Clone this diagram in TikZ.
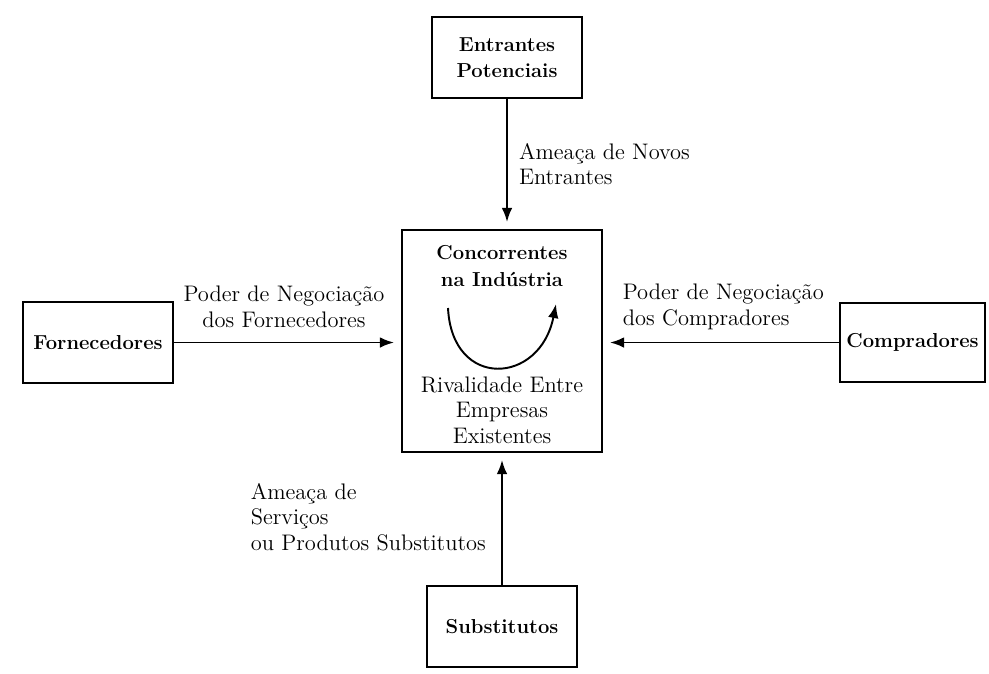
\documentclass[tikz,border=0pt]{standalone}
\usepackage{amsmath}
\usepackage{amssymb}
\usepackage{tikz}
\usetikzlibrary{arrows.meta}

\begin{document}
\begin{tikzpicture}[->,>={Latex[length=8pt,width=6pt]},shorten >=4pt,line width=1.1pt,x=0.02cm,y=-0.02cm,
  force node/.style={rectangle,draw,align=center,font=\fontsize{11.5}{15}\selectfont\bfseries,minimum width=3cm,minimum height=1.62cm},
  force label/.style={font=\fontsize{12.8}{14.6}\selectfont}]
	\useasboundingbox (0,0) rectangle (989,673);
	\draw[-] (507,57.5) node(ent) [force node] {Entrantes\\Potenciais}
	      (502,341) node(conc) [force node, minimum width=4cm, minimum height=4.44cm] {}
	      (98,342.5) node(forn) [force node] {Fornecedores}
	      (912.5,342.5) node(comp) [force node, minimum width=2.9cm, minimum height=1.58cm] {Compradores}
	      (502,626.5) node(subs) [force node] {Substitutos};
	% texts inside the central box
	\node (conctitle) at (502,266) [align=center, font=\fontsize{11.5}{15}\selectfont\bfseries] {Concorrentes\\na Ind\'ustria};
	\node (rival) at (502,410) [align=center, force label] {Rivalidade Entre\\Empresas\\Existentes};
	\draw[shorten >=0pt] (448,308) .. controls (452,390) and (540,385) .. (556,304);
	% the forces
	\draw (ent.south) -- (ent.south |- conc.north)
	      node[midway, right=3pt, align=left, force label] (entlbl) {Amea\c{c}a de Novos\\Entrantes};
	\draw (forn.east) -- (forn.east -| conc.west);
	\node (fornlbl) at (284,307) [align=center, force label] {Poder de Negocia\c{c}\~ao\\dos Fornecedores};
	\draw (comp.west) -- (comp.west -| conc.east);
	\node (complbl) at (616,307) [anchor=west, align=left, force label] {Poder de Negocia\c{c}\~ao\\dos Compradores};
	\draw (subs.north) -- (subs.north |- conc.south);
	\node (subslbl) at (244,517) [anchor=west, align=left, force label] {Amea\c{c}a de\\Servi\c{c}os\\ou Produtos Substitutos};
\end{tikzpicture}
\end{document}
